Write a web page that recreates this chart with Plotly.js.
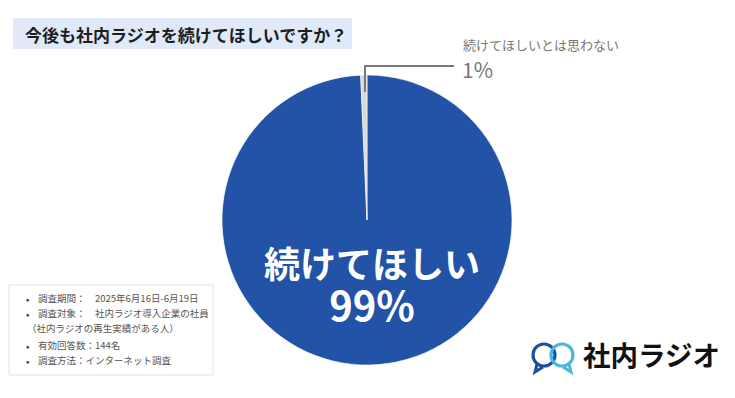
<!DOCTYPE html>
<html><head><meta charset="utf-8">
<script src="https://cdn.plot.ly/plotly-3.0.1.min.js"></script>
<style>html,body{margin:0;padding:0;background:#fff;}#chart{width:735px;height:398px;}</style>
</head><body><div id="chart"></div>
<script>
// Data
const categories = ["続けてほしい", "続けてほしいとは思わない"];
const counts = [143, 1];
const pctLabels = ["99%", "1%"];
const sliceColors = ["#2353A6", "#D9D9D9"];
const titleText = "今後も社内ラジオを続けてほしいですか？";
const notes = ["調査期間：　2025年6月16日-6月19日", "調査対象：　社内ラジオ導入企業の社員", "（社内ラジオの再生実績がある人）", "有効回答数：144名", "調査方法：インターネット調査"];
const noteBullets = [true, true, false, true, true];
const logoText = "社内ラジオ";

const W = 735, H = 398;
const px = x => x / W, py = y => 1 - y / H;
const FONT = "Noto Sans CJK JP";

const cx = 367, cy = 220, r = 145;

const trace = {
  type: "pie",
  labels: categories,
  values: counts,
  sort: false,
  direction: "clockwise",
  rotation: 0,
  marker: {colors: sliceColors, line: {color: "#ffffff", width: 0.6}},
  textinfo: "none",
  hoverinfo: "none",
  showlegend: false,
  domain: {x: [px(cx - r), px(cx + r)], y: [py(cy + r), py(cy - r)]}
};

const shapes = [
  {type: "rect", xref: "paper", yref: "paper", x0: px(13), x1: px(352), y0: py(49), y1: py(18), fillcolor: "#DFE9F8", line: {width: 0}, layer: "below"},
  {type: "rect", xref: "paper", yref: "paper", x0: px(9), x1: px(213), y0: py(375), y1: py(285), fillcolor: "#ffffff", line: {color: "#E3E3E3", width: 1}},
  {type: "path", xref: "paper", yref: "paper", path: `M ${px(365)} ${py(92)} L ${px(365)} ${py(66)} L ${px(454)} ${py(66)}`, line: {color: "#7A7A7A", width: 2}, layer: "above"},
  {type: "circle", xref: "paper", yref: "paper", x0: px(533), x1: px(555), y0: py(366), y1: py(344), line: {color: "#1D4F9F", width: 3.2}},
  {type: "path", xref: "paper", yref: "paper", path: `M ${px(537)} ${py(364)} L ${px(535)} ${py(372)} L ${px(543)} ${py(367)}`, line: {color: "#1D4F9F", width: 3}},
  {type: "circle", xref: "paper", yref: "paper", x0: px(551), x1: px(573), y0: py(366), y1: py(344), line: {color: "#47B7DB", width: 3.2}},
  {type: "path", xref: "paper", yref: "paper", path: `M ${px(569)} ${py(364)} L ${px(571)} ${py(372)} L ${px(563)} ${py(367)}`, line: {color: "#47B7DB", width: 3}}
];

const annotations = [
  {text: "<b>" + titleText + "</b>", x: px(23), y: py(34), xref: "paper", yref: "paper", xanchor: "left", yanchor: "middle", showarrow: false, font: {family: FONT, size: 17, color: "#1E1E1E"}},
  {text: "<span style='font-size:36px'><b>" + categories[0] + "</b></span><br><span style='font-size:40px'><b>" + pctLabels[0] + "</b></span>",
   x: px(cx + 5), y: py(284), xref: "paper", yref: "paper", xanchor: "center", yanchor: "middle", align: "center", showarrow: false, font: {family: FONT, size: 33, color: "#ffffff"}},
  {text: categories[1], x: px(461), y: py(45), xref: "paper", yref: "paper", xanchor: "left", yanchor: "middle", showarrow: false, font: {family: FONT, size: 13, color: "#777777"}},
  {text: pctLabels[1], x: px(460), y: py(69), xref: "paper", yref: "paper", xanchor: "left", yanchor: "middle", showarrow: false, font: {family: FONT, size: 21, color: "#777777"}},
  {text: "<b>" + logoText + "</b>", x: px(581), y: py(354), xref: "paper", yref: "paper", xanchor: "left", yanchor: "middle", showarrow: false, font: {family: FONT, size: 27.5, color: "#111111"}}
];

const noteY = [298, 313, 328, 345, 360];
notes.forEach((t, i) => {
  if (noteBullets[i]) {
    annotations.push({text: "•", x: px(24), y: py(noteY[i]), xref: "paper", yref: "paper", xanchor: "left", yanchor: "middle", showarrow: false, font: {family: FONT, size: 10, color: "#333333"}});
  }
  annotations.push({text: t, x: px(noteBullets[i] ? 36 : 25), y: py(noteY[i]), xref: "paper", yref: "paper", xanchor: "left", yanchor: "middle", showarrow: false, font: {family: FONT, size: 9.5, color: "#555555"}});
});

const layout = {
  width: W, height: H,
  margin: {l: 0, r: 0, t: 0, b: 0},
  paper_bgcolor: "#ffffff",
  showlegend: false,
  shapes: shapes,
  annotations: annotations
};

Plotly.newPlot("chart", [trace], layout, {staticPlot: true, displayModeBar: false});
</script></body></html>
